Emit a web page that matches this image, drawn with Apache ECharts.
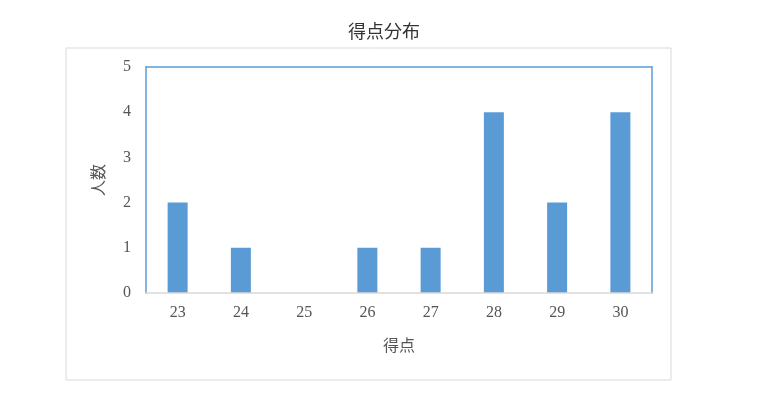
<!DOCTYPE html>
<html>
<head>
<meta charset="utf-8">
<script src="https://cdn.jsdelivr.net/npm/echarts@6/dist/echarts.min.js"></script>
<style>
  html, body { margin: 0; padding: 0; background: #fff; }
  #main { width: 768px; height: 418px; }
</style>
</head>
<body>
<div id="main"></div>
<script>
// 得点ごとの人数
let scores = ['23', '24', '25', '26', '27', '28', '29', '30'];
let counts = [2, 1, 0, 1, 1, 4, 2, 4];

let font = '"Liberation Serif", "Noto Sans CJK JP", serif';
let blue = '#5b9bd5';

let myChart = echarts.init(document.getElementById('main'));

let option = {
    backgroundColor: '#fff',
    title: {
        text: '得点分布',
        left: 'center',
        top: 19,
        textStyle: { fontFamily: font, fontSize: 18, fontWeight: 'normal', color: '#333' }
    },
    graphic: [{
        type: 'rect',
        shape: { x: 66, y: 48, width: 605, height: 332 },
        style: { fill: 'none', stroke: '#d9d9d9', lineWidth: 1 },
        silent: true
    }],
    grid: {
        left: 146, top: 67, right: 116, bottom: 125
    },
    xAxis: [{
        type: 'category',
        data: scores,
        name: '得点',
        nameLocation: 'middle',
        nameGap: 46,
        nameTextStyle: { fontFamily: font, fontSize: 16, color: '#555' },
        axisLine: { onZero: false, lineStyle: { color: '#d9d9d9', width: 1.5 } },
        axisTick: { show: false },
        axisLabel: { fontFamily: font, fontSize: 16, color: '#555', margin: 12 },
        z: 3
    }, {
        // 上枠
        type: 'category',
        data: scores,
        position: 'top',
        axisLine: { onZero: false, lineStyle: { color: blue, width: 1.5 } },
        axisTick: { show: false },
        axisLabel: { show: false }
    }],
    yAxis: [{
        type: 'value',
        min: 0,
        max: 5,
        interval: 1,
        name: '人数',
        nameLocation: 'middle',
        nameGap: 38,
        nameRotate: 90,
        nameTextStyle: { fontFamily: font, fontSize: 16, color: '#555' },
        axisLine: { show: true, onZero: false, lineStyle: { color: blue, width: 1.5 } },
        axisTick: { show: false },
        splitLine: { show: false },
        axisLabel: { fontFamily: font, fontSize: 16, color: '#555', margin: 15 }
    }, {
        // 右枠
        type: 'value',
        min: 0,
        max: 5,
        interval: 1,
        position: 'right',
        axisLine: { show: true, onZero: false, lineStyle: { color: blue, width: 1.5 } },
        axisTick: { show: false },
        splitLine: { show: false },
        axisLabel: { show: false }
    }],
    series: [{
        name: '人数',
        type: 'bar',
        data: counts,
        barWidth: 20,
        itemStyle: { color: blue }
    }]
};

myChart.setOption(option, true);
</script>
</body>
</html>
